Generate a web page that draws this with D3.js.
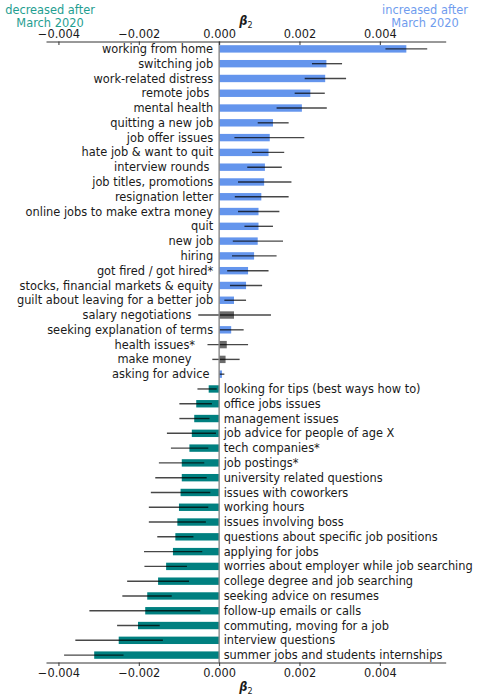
<!DOCTYPE html>
<html>
<head>
<meta charset="utf-8">
<script src="https://cdn.jsdelivr.net/npm/d3@7"></script>
<style>
body{margin:0;background:#fff;}
svg{font-family:"DejaVu Sans",sans-serif;}
text{white-space:pre;}
</style>
</head>
<body>
<svg id="chart" width="483" height="700"></svg>
<script>
// ---- data ----
const categories = [
  "working from home","switching job","work-related distress","remote jobs ","mental health",
  "quitting a new job","job offer issues","hate job & want to quit","interview rounds ","job titles, promotions",
  "resignation letter","online jobs to make extra money","quit","new job","hiring",
  "got fired / got hired*","stocks, financial markets & equity","guilt about leaving for a better job",
  "salary negotiations      ","seeking explanation of terms","health issues*     ","make money      ","asking for advice ",
  "looking for tips (best ways how to)","office jobs issues","management issues","job advice for people of age X",
  "tech companies*","job postings*","university related questions","issues with coworkers","working hours",
  "issues involving boss","questions about specific job positions","applying for jobs",
  "worries about employer while job searching","college degree and job searching","seeking advice on resumes",
  "follow-up emails or calls","commuting, moving for a job","interview questions","summer jobs and students internships"
];
const beta = [
  0.00466,0.00267,0.00264,0.00227,0.00206,
  0.00134,0.00126,0.00123,0.00114,0.00112,
  0.00105,0.00098,0.00098,0.00096,0.00087,
  0.00072,0.00067,0.00037,
  0.00037,0.00030,0.00019,0.00016,0.00007,
  -0.00026,-0.00057,-0.00062,-0.00068,
  -0.00074,-0.00093,-0.00093,-0.00096,-0.00100,
  -0.00104,-0.00109,-0.00115,
  -0.00132,-0.00152,-0.00179,
  -0.00184,-0.00202,-0.00250,-0.00311
];
const ciLow = [
  0.00414,0.00231,0.00213,0.00188,0.00143,
  0.00096,0.00038,0.00082,0.00070,0.00047,
  0.00039,0.00047,0.00063,0.00034,0.00032,
  0.00020,0.00027,0.00013,
  -0.00052,0.00001,-0.00029,-0.00017,0.00000,
  -0.00054,-0.00099,-0.00099,-0.00130,
  -0.00120,-0.00150,-0.00159,-0.00170,-0.00175,
  -0.00175,-0.00154,-0.00187,
  -0.00186,-0.00229,-0.00241,
  -0.00323,-0.00254,-0.00358,-0.00386
];
const ciHigh = [
  0.00518,0.00306,0.00316,0.00263,0.00268,
  0.00173,0.00212,0.00162,0.00156,0.00180,
  0.00173,0.00150,0.00134,0.00159,0.00143,
  0.00123,0.00107,0.00067,
  0.00129,0.00061,0.00072,0.00051,0.00013,
  -0.00006,-0.00018,-0.00024,-0.00008,
  -0.00027,-0.00037,-0.00031,-0.00022,-0.00027,
  -0.00033,-0.00064,-0.00042,
  -0.00080,-0.00075,-0.00118,
  -0.00047,-0.00148,-0.00140,-0.00238
];
const significant = [
  1,1,1,1,1, 1,1,1,1,1, 1,1,1,1,1, 1,1,1, 0,1,0,0,1,
  1,1,1,1, 1,1,1,1,1, 1,1,1, 1,1,1, 1,1,1,1
];
const tickValues = [-0.004,-0.002,0.000,0.002,0.004];
const xDomain = [-0.00431, 0.00564];

// ---- layout ----
const svg = d3.select("#chart");
const mLeft = 46, mRight = 445.7, mTop = 41.5, mBottom = 662.5;
const FS = 11.4;
const x = d3.scaleLinear().domain(xDomain).range([mLeft, mRight]);
const y = d3.scaleBand().domain(categories).range([mTop, mBottom]).paddingInner(0).paddingOuter(0);
const barH = y.bandwidth() * 0.5;
const colPos = "#6495ED", colNeg = "#008080", colNS = "#6b6b6b";
const data = categories.map((c,i)=>({c, v:beta[i], lo:ciLow[i], hi:ciHigh[i], sig:significant[i]}));

// bars
svg.append("g").selectAll("rect").data(data).join("rect")
  .attr("x", d=>x(Math.min(0,d.v)))
  .attr("width", d=>Math.abs(x(d.v)-x(0)))
  .attr("y", d=>y(d.c)+y.bandwidth()/2-barH/2)
  .attr("height", barH)
  .attr("fill", d=>!d.sig ? colNS : (d.v>=0?colPos:colNeg));

// error bars
svg.append("g").selectAll("line").data(data).join("line")
  .attr("x1", d=>x(d.lo)).attr("x2", d=>x(d.hi))
  .attr("y1", d=>y(d.c)+y.bandwidth()/2).attr("y2", d=>y(d.c)+y.bandwidth()/2)
  .attr("stroke","#000").attr("stroke-opacity",0.72).attr("stroke-width",1.4);

// zero spine
svg.append("line").attr("x1",x(0)).attr("x2",x(0)).attr("y1",mTop).attr("y2",mBottom)
  .attr("stroke","#888").attr("stroke-width",1.4);

// axes
const fmt = d3.format(".3f");
const tickFmt = v => (v<0?"\u2212":"")+fmt(Math.abs(v));
const axTop = svg.append("g").attr("transform",`translate(0,${mTop})`)
  .call(d3.axisTop(x).tickValues(tickValues).tickFormat(tickFmt).tickSize(3.5).tickPadding(0.5).tickSizeOuter(0));
const axBot = svg.append("g").attr("transform",`translate(0,${mBottom})`)
  .call(d3.axisBottom(x).tickValues(tickValues).tickFormat(tickFmt).tickSize(3.5).tickPadding(2.5).tickSizeOuter(0));
// top ticks point down into the plot, labels sit just above the spine
axTop.selectAll(".tick line").attr("y2", 3.5);
axTop.selectAll(".tick text").attr("y", -4);
[axTop,axBot].forEach(a=>{
  a.select(".domain").attr("stroke","#333").attr("stroke-width",1);
  a.selectAll(".tick line").attr("stroke","#333");
  a.selectAll(".tick text").attr("font-size",FS).attr("font-family","DejaVu Sans").attr("fill","#1a1a1a");
});

// category labels
svg.append("g").selectAll("text").data(data).join("text")
  .attr("x", d=> d.v>=0 ? x(0)-6 : x(0)+4.5)
  .attr("y", d=>y(d.c)+y.bandwidth()/2)
  .attr("dy","0.36em")
  .attr("text-anchor", d=> d.v>=0 ? "end" : "start")
  .attr("font-size",FS).attr("fill","#1a1a1a")
  .text(d=>d.c);

// axis titles
const cx = (mLeft+mRight)/2;
[25,691].forEach(yy=>{
  const t = svg.append("text").attr("x",cx).attr("y",yy).attr("text-anchor","middle")
    .attr("font-size",FS).attr("fill","#1a1a1a");
  t.append("tspan").attr("font-style","italic").attr("font-weight","bold").text("β");
  t.append("tspan").attr("font-size",8).attr("dy",2.5).text("2");
});

// corner annotations
const ann = [
  {x:50, lines:["decreased after","March 2020"], col:"#1f9e91"},
  {x:425, lines:["increased after","March 2020"], col:"#6f9cee"}
];
ann.forEach(a=>{
  a.lines.forEach((l,i)=>{
    svg.append("text").attr("x",a.x).attr("y",14+i*13).attr("text-anchor","middle")
      .attr("font-size",FS).attr("fill",a.col).text(l);
  });
});
</script>
</body>
</html>
